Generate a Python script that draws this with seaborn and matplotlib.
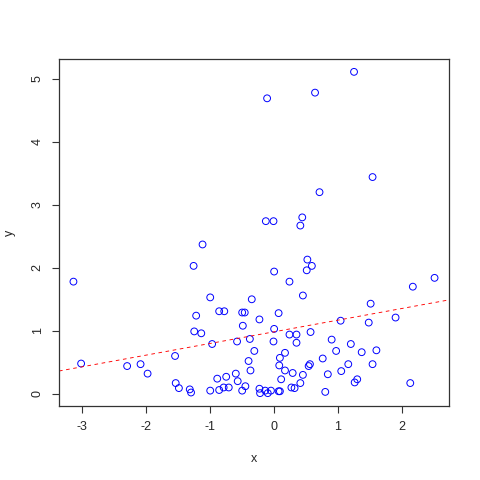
import numpy as np
import pandas as pd
import matplotlib
matplotlib.use("Agg")
import matplotlib.pyplot as plt
import seaborn as sns

# values (100 points)
x_vals = [-3.14, -3.02, -1.26, -1.00, -0.86, -0.78, -1.22, -0.35, -0.50, -0.46,
          -0.49, -1.25, -1.14, -0.97, -0.58, -0.38, -0.31, -0.40, -0.37, -1.55,
          -2.30, -2.09, -1.98, -1.54, -1.49, -1.32, -1.30, -1.00, -0.89, -0.75,
          -0.86, -0.79, -0.71, -0.60, -0.57, -0.50, -0.45, 0.07, -0.23, 0.00,
          0.24, 0.35, 0.35, 0.57, -0.01, 0.17, 0.09, 0.08, 0.17, 0.11,
          0.29, 0.45, 0.54, 0.56, 0.76, 0.84, 0.41, 0.27, 0.32, -0.23,
          -0.22, -0.14, -0.10, -0.05, 0.07, 0.09, 0.80, 0.59, 0.51, 0.45,
          1.04, 1.51, 1.48, 1.90, 2.17, 2.51, 0.90, 1.20, 0.97, 1.37,
          1.60, 1.16, 1.54, 1.05, 1.30, 1.26, 2.13, 0.71, -0.13, -0.01,
          0.44, 0.41, -1.12, 0.52, 0.00, 0.24, 1.25, 0.64, -0.11, 1.54]
y_vals = [1.78, 0.48, 2.03, 1.53, 1.31, 1.31, 1.24, 1.50, 1.29, 1.29,
          1.08, 0.99, 0.96, 0.79, 0.83, 0.87, 0.68, 0.52, 0.37, 0.60,
          0.44, 0.47, 0.32, 0.17, 0.09, 0.07, 0.02, 0.05, 0.24, 0.27,
          0.06, 0.10, 0.10, 0.32, 0.20, 0.05, 0.12, 1.28, 1.18, 1.03,
          0.94, 0.94, 0.81, 0.98, 0.83, 0.65, 0.57, 0.45, 0.37, 0.23,
          0.33, 0.30, 0.44, 0.47, 0.56, 0.31, 0.17, 0.10, 0.09, 0.08,
          0.01, 0.05, 0.01, 0.05, 0.04, 0.04, 0.03, 2.03, 1.96, 1.56,
          1.16, 1.43, 1.13, 1.21, 1.70, 1.84, 0.86, 0.79, 0.68, 0.66,
          0.69, 0.47, 0.47, 0.36, 0.23, 0.18, 0.17, 3.20, 2.74, 2.74,
          2.80, 2.67, 2.37, 2.13, 1.94, 1.78, 5.11, 4.78, 4.69, 3.44]

# fitted line (abline)
line_intercept = 0.984
line_slope = 0.185

x_ticks = [-3, -2, -1, 0, 1, 2]
y_ticks = [0, 1, 2, 3, 4, 5]

df = pd.DataFrame({"x": x_vals, "y": y_vals})

sns.set_style("ticks")
plt.rcParams["font.family"] = ["Liberation Sans", "DejaVu Sans"]

fig = plt.figure(figsize=(4.8, 4.8), dpi=100)
ax = fig.add_axes([59 / 480, 74 / 480, 390 / 480, 347 / 480])

sns.scatterplot(data=df, x="x", y="y", ax=ax, marker="o", s=24,
                facecolors="none", edgecolors="#0000FF", linewidth=0.7)
ax.axline((0, line_intercept), slope=line_slope, color="#FF0000",
          linestyle=(0, (4, 4)), linewidth=0.65)

# R-style 4% padding around data range
xr = max(x_vals) - min(x_vals)
yr = max(y_vals) - min(y_vals)
ax.set_xlim(min(x_vals) - 0.04 * xr, max(x_vals) + 0.04 * xr)
ax.set_ylim(min(y_vals) - 0.04 * yr, max(y_vals) + 0.04 * yr)

ax.set_xticks(x_ticks)
ax.set_yticks(y_ticks)
ax.set_xticklabels([str(t) for t in x_ticks])
ax.set_yticklabels([str(t) for t in y_ticks], rotation=90, va="center")
ax.tick_params(axis="both", length=5, width=0.8, color="#333333",
               labelsize=9, pad=6)

for sp in ax.spines.values():
    sp.set_visible(True)
    sp.set_color("#333333")
    sp.set_linewidth(0.9)

ax.set_xlabel("x", fontsize=9, labelpad=14)
ax.set_ylabel("y", fontsize=9, labelpad=11)

fig.savefig("out.png", dpi=100, facecolor="white")
